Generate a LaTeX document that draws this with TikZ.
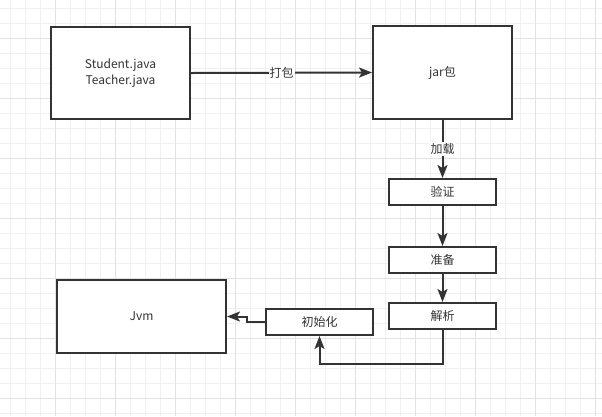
\documentclass[tikz,border=0pt]{standalone}
\usepackage{fontspec}
\setmainfont{Noto Sans CJK SC}
\usetikzlibrary{arrows.meta}
\definecolor{ink}{HTML}{333333}
\definecolor{minorgrid}{HTML}{F0F0F0}
\definecolor{majorgrid}{HTML}{E2E2E2}
\tikzset{
  box/.style={draw=ink, line width=2pt, fill=white, text=ink, font=\fontsize{12}{16}\selectfont, align=center, inner sep=0pt},
  conn/.style={draw=ink, line width=2pt, -{Stealth[length=13pt,width=10pt,inset=3pt]}},
  elabel/.style={fill=white, text=ink, font=\fontsize{12}{16}\selectfont, inner sep=1pt}
}
\begin{document}
\begin{tikzpicture}[x=1pt,y=-1pt]
\useasboundingbox (0,0) rectangle (602,416);
\fill[white] (0,0) rectangle (602,416);
% grid
\foreach \i in {0,...,39} {
  \draw[minorgrid, line width=1pt] (10.5+15*\i,0) -- (10.5+15*\i,416);
}
\foreach \i in {0,...,27} {
  \draw[minorgrid, line width=1pt] (0,8.3+15*\i) -- (602,8.3+15*\i);
}
\foreach \i in {-1,...,9} {
  \draw[majorgrid, line width=1pt] (55.5+60*\i,0) -- (55.5+60*\i,416);
}
\foreach \i in {-1,...,6} {
  \draw[majorgrid, line width=1pt] (0,38.3+60*\i) -- (602,38.3+60*\i);
}
% nodes
\node[box, minimum width=139pt, minimum height=92pt] (src) at (120.5,73) {Student.java\\Teacher.java};
\node[box, minimum width=139pt, minimum height=93pt] (jar) at (442.5,72.5) {jar包};
\node[box, minimum width=107pt, minimum height=26pt] (ver) at (442.5,192) {验证};
\node[box, minimum width=107pt, minimum height=26pt] (pre) at (442.5,260) {准备};
\node[box, minimum width=107pt, minimum height=26pt] (res) at (442.5,316) {解析};
\node[box, minimum width=107pt, minimum height=26pt] (ini) at (319.5,322) {初始化};
\node[box, minimum width=169pt, minimum height=73pt] (jvm) at (141.5,316.5) {Jvm};
\coordinate (c1) at (442.5,364);
\coordinate (c2) at (319.5,364);
\coordinate (c3) at (247,322);
\coordinate (c4) at (247,316.5);
% connectors
\draw[conn] (src.east) -- node[elabel, pos=0.5] {打包} (jar.west);
\draw[conn] (jar.south) -- node[elabel, pos=0.5] {加载} (ver.north);
\draw[conn] (ver.south) -- (pre.north);
\draw[conn] (pre.south) -- (res.north);
\draw[conn] (res.south) -- (c1) -- (c2) -- (ini.south);
\draw[conn] (ini.west) -- (c3) -- (c4) -- (jvm.east);
\end{tikzpicture}
\end{document}
